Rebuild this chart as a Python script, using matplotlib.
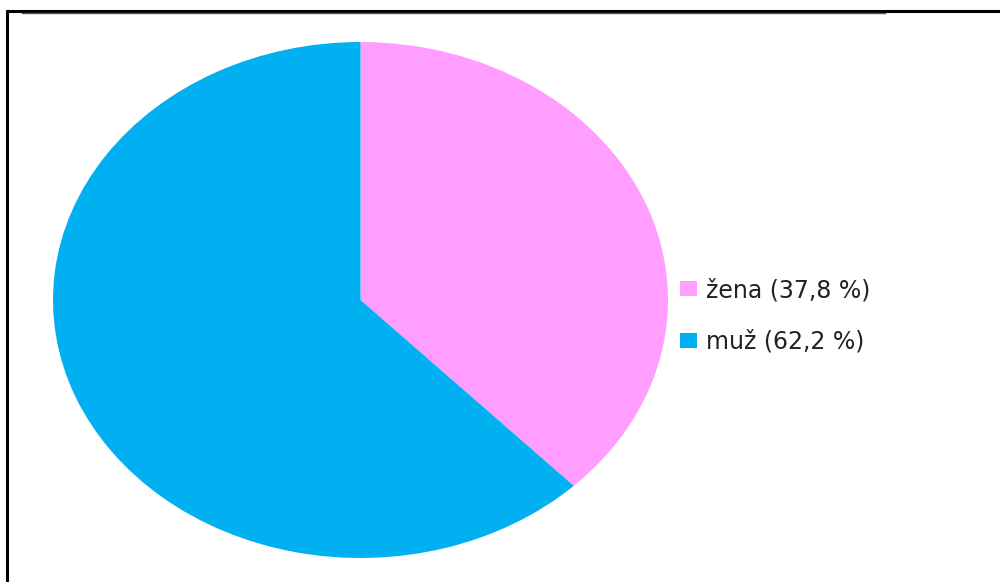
import matplotlib
matplotlib.use("Agg")
import matplotlib.pyplot as plt
from matplotlib.lines import Line2D

labels = ["žena (37,8 %)", "muž (62,2 %)"]
values = [37.8, 62.2]
colors = ["#FF9EFF", "#00B0F0"]

W, H = 1000, 582
fig = plt.figure(figsize=(W / 100, H / 100), dpi=100)
fig.patch.set_facecolor("white")

# ellipse bounds in pixels
x0, x1 = 53, 668
y0, y1 = 42, 558
ax = fig.add_axes([x0 / W, (H - y1) / H, (x1 - x0) / W, (y1 - y0) / H])
wedges, _ = ax.pie(values, colors=colors, startangle=90, counterclock=False,
                   wedgeprops=dict(linewidth=0))
ax.set_aspect("auto")
ax.set_xlim(-1, 1)
ax.set_ylim(-1, 1)
ax.axis("off")

fs = 17
leg = fig.legend(wedges, labels, loc="upper left",
                 bbox_to_anchor=(680 / W, 1 - 278 / H),
                 frameon=False, fontsize=fs, handlelength=0.70, handleheight=0.60,
                 handletextpad=0.42, labelspacing=1.18, borderpad=0, borderaxespad=0,
                 labelcolor="#222222")

# frame lines
fig.add_artist(Line2D([6 / W, 1.0], [1 - 10.5 / H, 1 - 10.5 / H], color="black", lw=2.2,
                      solid_capstyle="butt"))
fig.add_artist(Line2D([7 / W, 7 / W], [1 - 10 / H, 0], color="black", lw=2.2,
                      solid_capstyle="butt"))
fig.add_artist(Line2D([22 / W, 885 / W], [1 - 12.5 / H, 1 - 12.5 / H], color="#555555", lw=1))

fig.savefig("out.png", dpi=100, facecolor="white")
